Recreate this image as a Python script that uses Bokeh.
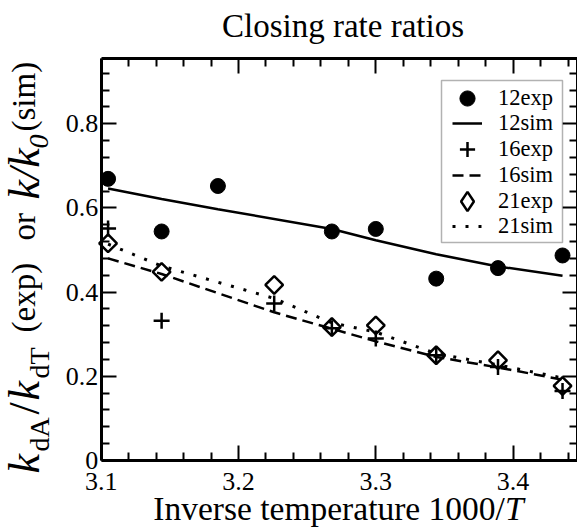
import numpy as np
from bokeh.plotting import figure
from bokeh.models import (FixedTicker, LinearAxis, Label, Legend, LegendItem,
                          BoxAnnotation)
from bokeh.embed import file_html
from bokeh.resources import INLINE

# ---------------- data ----------------
x12 = [3.105, 3.144, 3.185, 3.268, 3.300, 3.344, 3.389, 3.436]
exp12 = [0.669, 0.544, 0.652, 0.544, 0.550, 0.432, 0.457, 0.487]
sim12 = [0.646, 0.621, 0.597, 0.550, 0.523, 0.490, 0.461, 0.439]

x16 = [3.105, 3.144, 3.226, 3.268, 3.300, 3.344, 3.389, 3.436]
exp16 = [0.551, 0.332, 0.373, 0.314, 0.290, 0.250, 0.222, 0.165]
sim16 = [0.480, 0.443, 0.352, 0.313, 0.283, 0.246, 0.221, 0.192]

x21 = [3.105, 3.144, 3.226, 3.268, 3.300, 3.344, 3.389, 3.436]
exp21 = [0.516, 0.448, 0.417, 0.317, 0.321, 0.250, 0.238, 0.177]
sim21 = [0.514, 0.462, 0.385, 0.327, 0.305, 0.254, 0.227, 0.196]

x_ticks = [3.1, 3.2, 3.3, 3.4]
y_ticks = [0, 0.2, 0.4, 0.6, 0.8]
x_lim = (3.1, 3.447)
y_lim = (0.0, 0.955)
legend_labels = ["12exp", "12sim", "16exp", "16sim", "21exp", "21sim"]
title_text = "Closing rate ratios"

FONT = "Liberation Serif"
W, H = 577, 527
PX_X = 1373.0   # pixels per x unit
PX_Y = 421.0    # pixels per y unit
X0_PIX, Y0_PIX = 100.7, 460.0   # pixel position of (3.1, 0) from top-left

xr = (x_lim[0] - X0_PIX / PX_X, x_lim[0] + (W - X0_PIX) / PX_X)
yr = (-(H - Y0_PIX) / PX_Y, Y0_PIX / PX_Y)

p = figure(width=W, height=H, x_range=xr, y_range=yr,
           output_backend="svg", toolbar_location=None,
           x_axis_location=None, y_axis_location=None,
           min_border=0)
p.min_border_left = p.min_border_right = p.min_border_top = p.min_border_bottom = 0
p.title.text = ""
p.grid.visible = False
p.outline_line_color = None
p.background_fill_color = "white"
p.border_fill_color = "white"

x_minor = [round(v, 3) for v in np.arange(3.12, 3.4401, 0.02) if round(v, 3) not in x_ticks]
y_minor = [round(v, 3) for v in np.arange(0.04, 0.9401, 0.04)
           if not any(abs(v - t) < 1e-6 for t in y_ticks)]


def tick_style(ax, major_len, minor_len, line=True):
    ax.axis_line_width = 3 if line else 0
    ax.axis_line_color = "black" if line else None
    ax.major_tick_in = major_len
    ax.major_tick_out = 0
    ax.minor_tick_in = minor_len
    ax.minor_tick_out = 0
    ax.major_tick_line_width = 2
    ax.minor_tick_line_width = 2
    ax.major_tick_line_color = "black"
    ax.minor_tick_line_color = "black"
    ax.major_label_text_font = FONT
    ax.major_label_text_font_size = "26px"
    ax.major_label_text_color = "black"


# labelled bottom / left axes
bottom = LinearAxis(ticker=FixedTicker(ticks=x_ticks, minor_ticks=x_minor),
                    fixed_location=0.0, bounds=x_lim)
tick_style(bottom, 15, 8)
bottom.major_label_standoff = 12
p.add_layout(bottom, "below")

left = LinearAxis(ticker=FixedTicker(ticks=y_ticks, minor_ticks=y_minor),
                  fixed_location=x_lim[0], bounds=y_lim)
tick_style(left, 15, 8)
left.major_label_standoff = 3
left.major_label_overrides = {0: "0"}
p.add_layout(left, "left")

# unlabelled mirror ticks: top and right (majors drawn as long "minor" ticks)
for ticks, ln, lw in ((x_ticks, 15, True), (x_minor, 8, False)):
    ax = LinearAxis(ticker=FixedTicker(ticks=[], minor_ticks=ticks),
                    fixed_location=y_lim[1], bounds=x_lim)
    tick_style(ax, 0, ln, lw)
    p.add_layout(ax, "above")
for ticks, ln, lw in ((y_ticks, 15, True), (y_minor, 8, False)):
    ax = LinearAxis(ticker=FixedTicker(ticks=[], minor_ticks=ticks),
                    fixed_location=x_lim[1], bounds=y_lim)
    tick_style(ax, 0, ln, lw)
    p.add_layout(ax, "right")

# ---------------- glyphs ----------------
r12e = p.scatter(x12, exp12, marker="circle", size=15, fill_color="black",
                 line_color="black")
r12s = p.line(x12, sim12, line_color="black", line_width=2.5)
r16e = p.scatter(x16, exp16, marker="cross", size=16, line_color="black",
                 line_width=2.5)
r16s = p.line(x16, sim16, line_color="black", line_width=2.5, line_dash="11 6")
r21e = p.scatter(x21, exp21, marker="square", angle=np.pi / 4, size=12.5,
                 fill_color=None, line_color="black", line_width=2.5)
r21s = p.line(x21, sim21, line_color="black", line_width=3, line_dash="3 10")
# legend-only proxy for the open diamond (the legend ignores marker angle);
# its single point is NaN so nothing is drawn in the plot area
r21proxy = p.scatter(x=[float("nan")], y=[float("nan")], marker="diamond", size=19,
                     fill_color=None, line_color="black", line_width=2.5)

# ---------------- legend ----------------
p.add_layout(BoxAnnotation(left=441, right=562, top=H - 80, bottom=H - 242,
                           left_units="screen", right_units="screen",
                           top_units="screen", bottom_units="screen",
                           fill_color="white", fill_alpha=1.0,
                           line_color="black", line_width=1.5))

GCX = 467.0     # glyph centre x (px)
TXT_X = 498.0   # label start x (px)
row_cy = [98.3, 123.3, 149.0, 175.0, 200.5, 225.7]
row_glyph = [38, 30, 38, 30, 48, 30]
row_rend = [r12e, r12s, r16e, r16s, r21proxy, r21s]
for lab_txt, cy, g, r in zip(legend_labels, row_cy, row_glyph, row_rend):
    left_x = GCX - g / 2.0
    lg = Legend(items=[LegendItem(label=lab_txt, renderers=[r])],
                location=(left_x, (H - cy) - g / 2.0),
                glyph_width=g, glyph_height=g, label_height=20,
                label_standoff=int(round(TXT_X - (left_x + g))),
                padding=0, margin=0, spacing=0,
                label_text_font=FONT, label_text_font_size="22.5px",
                label_text_color="black",
                border_line_color=None, background_fill_alpha=0.0)
    p.add_layout(lg)

# ---------------- texts ----------------
def lab(x, y, text, size="33px", style="normal", align="left", angle=0.0):
    p.add_layout(Label(x=x, y=H - y, x_units="screen", y_units="screen", text=text,
                       text_font=FONT, text_font_size=size, text_font_style=style,
                       text_align=align, text_baseline="alphabetic", angle=angle,
                       text_color="black"))

lab(342.5, 25.5, title_text, align="center")
lab(504.4, 508.0, "Inverse temperature 1000/", size="33.5px", align="right")
lab(504.4, 508.0, "T", size="33.5px", style="italic")

# rotated y label: k_dA/k_dT (exp)  or  k/k_0 (sim)
A = np.pi / 2
XB = 23.5   # main baseline
XS = 38.5   # subscript baseline
KF = "44px"   # italic k
SUB = "28px"  # subscripts
lab(XB, 473, "k", size=KF, style="italic", angle=A)
lab(XS, 451, "dA", size=SUB, angle=A)
lab(XB, 414, "/", size=KF, angle=A)
lab(XB, 400, "k", size=KF, style="italic", angle=A)
lab(XS, 378, "dT", size=SUB, angle=A)
lab(XB, 332, "(exp)", angle=A)
lab(XB, 240, "or", angle=A)
lab(XB, 199, "k/k", size=KF, style="italic", angle=A)
lab(XS, 148, "0", size=SUB, style="italic", angle=A)
lab(XB, 131, "(sim)", angle=A)

open("out.html", "w").write(file_html(p, INLINE))
